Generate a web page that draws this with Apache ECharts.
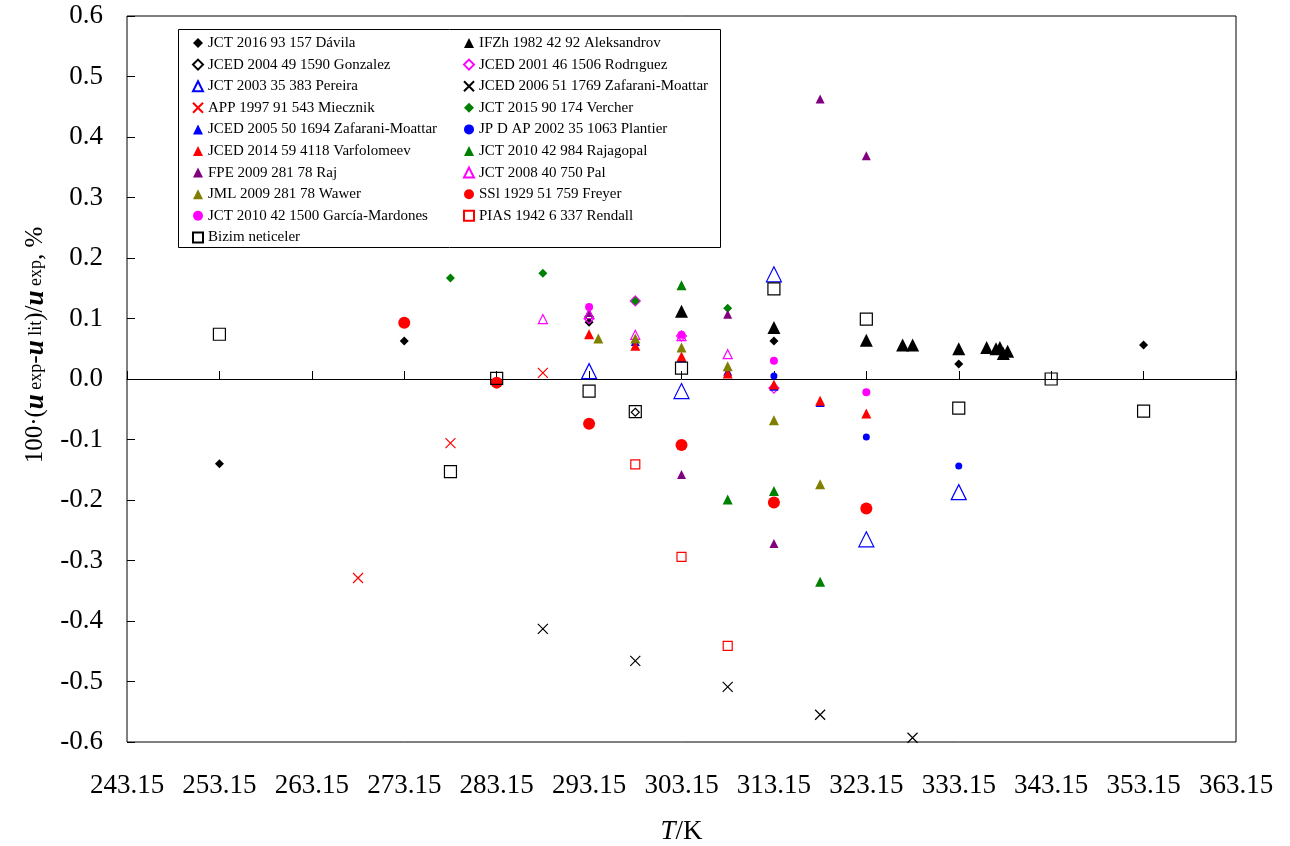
<!DOCTYPE html>
<html>
<head>
<meta charset="utf-8">
<script src="https://cdn.jsdelivr.net/npm/echarts@6/dist/echarts.min.js"></script>
<style>
  html, body { margin: 0; padding: 0; background: #fff; }
  #chart { width: 1290px; height: 846px; }
</style>
</head>
<body>
<div id="chart"></div>
<script>
// temperature offset: axis runs 243.15 .. 363.15 K
var T0 = 243.15;
var xTicks = [243.15, 253.15, 263.15, 273.15, 283.15, 293.15, 303.15, 313.15, 323.15, 333.15, 343.15, 353.15, 363.15];
var yTicks = [-0.6, -0.5, -0.4, -0.3, -0.2, -0.1, 0.0, 0.1, 0.2, 0.3, 0.4, 0.5, 0.6];

// deviations, 100*(u_exp-u_lit)/u_exp, %
var davilaT = [253.15, 273.15, 293.15, 313.15, 333.15, 353.15];
var davilaD = [-0.140, 0.063, 0.094, 0.063, 0.025, 0.056];

var aleksT = [303.15, 313.15, 323.15, 327.08, 328.16, 333.15, 336.17, 337.18, 337.60, 337.97, 338.44];
var aleksD = [0.112, 0.085, 0.064, 0.056, 0.056, 0.050, 0.052, 0.050, 0.052, 0.042, 0.046];

var gonzT = [293.15, 298.15];
var gonzD = [0.103, -0.055];

var rodrT = [293.15, 298.15, 303.15, 313.15];
var rodrD = [0.100, 0.129, 0.071, -0.015];

var pereiraT = [293.15, 303.15, 313.15, 323.15, 333.15];
var pereiraD = [0.013, -0.020, 0.173, -0.265, -0.187];

var zm2006T = [288.15, 298.15, 308.15, 318.15, 328.15];
var zm2006D = [-0.413, -0.466, -0.509, -0.555, -0.593];

var miecT = [268.15, 278.15, 288.15];
var miecD = [-0.329, -0.106, 0.010];

var vercherT = [278.15, 288.15, 298.15, 308.15];
var vercherD = [0.167, 0.175, 0.129, 0.117];

var zm2005T = [298.15, 303.15, 308.15, 313.15, 318.15];
var zm2005D = [0.062, 0.035, 0.013, -0.012, -0.039];

var plantT = [313.15, 323.15, 333.15];
var plantD = [0.005, -0.096, -0.144];

var varfT = [293.15, 298.15, 303.15, 308.15, 313.15, 318.15, 323.15];
var varfD = [0.074, 0.055, 0.037, 0.009, -0.009, -0.036, -0.057];

var rajagT = [303.15, 308.15, 313.15, 318.15];
var rajagD = [0.155, -0.199, -0.185, -0.335];

var rajT = [293.15, 303.15, 308.15, 313.15, 318.15, 323.15];
var rajD = [0.110, -0.158, 0.107, -0.272, 0.463, 0.369];

var palT = [288.15, 293.15, 298.15, 303.15, 308.15];
var palD = [0.099, 0.107, 0.073, 0.071, 0.041];

var wawerT = [294.15, 298.15, 303.15, 308.15, 313.15, 318.15];
var wawerD = [0.067, 0.067, 0.052, 0.021, -0.068, -0.174];

var freyerT = [273.15, 283.15, 293.15, 303.15, 313.15, 323.15];
var freyerD = [0.093, -0.006, -0.074, -0.109, -0.204, -0.214];

var garciaT = [293.15, 303.15, 313.15, 323.15];
var garciaD = [0.119, 0.073, 0.030, -0.022];

var rendallT = [298.15, 303.15, 308.15];
var rendallD = [-0.141, -0.294, -0.441];

var bizimT = [253.15, 278.15, 283.15, 293.15, 298.15, 303.15, 313.15, 323.15, 333.15, 343.15, 353.15];
var bizimD = [0.074, -0.153, 0.001, -0.020, -0.054, 0.018, 0.149, 0.099, -0.048, 0.000, -0.053];

var leftNames = [
    'JCT 2016 93 157 Dávila',
    'JCED 2004 49 1590 Gonzalez',
    'JCT 2003 35 383 Pereira',
    'APP 1997 91 543 Miecznik',
    'JCED 2005 50 1694 Zafarani-Moattar',
    'JCED 2014 59 4118 Varfolomeev',
    'FPE 2009 281 78 Raj',
    'JML 2009 281 78 Wawer',
    'JCT 2010 42 1500 García-Mardones',
    'Bizim neticeler'
];
var rightNames = [
    'IFZh 1982 42 92 Aleksandrov',
    'JCED 2001 46 1506 Rodrıguez',
    'JCED 2006 51 1769 Zafarani-Moattar',
    'JCT 2015 90 174 Vercher',
    'JP D AP 2002 35 1063 Plantier',
    'JCT 2010 42 984 Rajagopal',
    'JCT 2008 40 750 Pal',
    'SSl 1929 51 759 Freyer',
    'PIAS 1942 6 337 Rendall'
];

var crossPath = 'path://M0,0L10,10M10,0L0,10';
var FONT = 'Liberation Serif';

function pts(ts, ds) {
    return ts.map(function (t, i) { return [t - T0, ds[i]]; });
}

function filled(name, ts, ds, symbol, size, color) {
    return {
        name: name, type: 'scatter', data: pts(ts, ds),
        symbol: symbol, symbolSize: size,
        itemStyle: { color: color, opacity: 1 }
    };
}
function open(name, ts, ds, symbol, size, color) {
    return {
        name: name, type: 'scatter', data: pts(ts, ds),
        symbol: symbol, symbolSize: size,
        itemStyle: { color: 'rgba(255,255,255,0)', borderColor: color, borderWidth: 1.2, opacity: 1 }
    };
}

var series = [
    filled(leftNames[0], davilaT, davilaD, 'diamond', 9, '#000000'),
    filled(rightNames[0], aleksT, aleksD, 'triangle', 13, '#000000'),
    open(leftNames[1], gonzT, gonzD, 'diamond', 8, '#000000'),
    open(rightNames[1], rodrT, rodrD, 'diamond', 10, '#FF00FF'),
    open(leftNames[2], pereiraT, pereiraD, 'triangle', 15, '#0000FF'),
    open(rightNames[2], zm2006T, zm2006D, crossPath, 10, '#000000'),
    open(leftNames[3], miecT, miecD, crossPath, 10, '#FF0000'),
    filled(rightNames[3], vercherT, vercherD, 'diamond', 9, '#008000'),
    filled(leftNames[4], zm2005T, zm2005D, 'triangle', 9, '#0000FF'),
    filled(rightNames[4], plantT, plantD, 'circle', 7, '#0000FF'),
    filled(leftNames[5], varfT, varfD, 'triangle', 10, '#FF0000'),
    filled(rightNames[5], rajagT, rajagD, 'triangle', 10, '#008000'),
    filled(leftNames[6], rajT, rajD, 'triangle', 9, '#800080'),
    open(rightNames[6], palT, palD, 'triangle', 9, '#FF00FF'),
    filled(leftNames[7], wawerT, wawerD, 'triangle', 10, '#808000'),
    filled(rightNames[7], freyerT, freyerD, 'circle', 12, '#FF0000'),
    filled(leftNames[8], garciaT, garciaD, 'circle', 8, '#FF00FF'),
    open(rightNames[8], rendallT, rendallD, 'rect', 9, '#FF0000'),
    open(leftNames[9], bizimT, bizimD, 'rect', 12, '#000000')
];

var chart = echarts.init(document.getElementById('chart'));

var legendBase = {
    orient: 'vertical',
    top: 30.5,
    itemWidth: 10,
    itemHeight: 10,
    itemGap: 6.6,
    padding: 5,
    textStyle: { fontFamily: FONT, fontSize: 15, color: '#000' }
};

var option = {
    animation: false,
    backgroundColor: '#fff',
    textStyle: { fontFamily: FONT },
    grid: {
        left: 127, right: 54, top: 16, bottom: 104,
        outerBoundsMode: 'none',
        show: true, borderColor: '#000', borderWidth: 1, backgroundColor: 'transparent'
    },
    graphic: [{
        type: 'rect', z: 1,
        shape: { x: 178.5, y: 29.5, width: 542, height: 218 },
        style: { fill: '#fff', stroke: '#000', lineWidth: 1 }
    }],
    legend: [
        Object.assign({}, legendBase, { left: 187, data: leftNames }),
        Object.assign({}, legendBase, { left: 458, data: rightNames })
    ],
    xAxis: [{
        type: 'value', position: 'bottom',
        min: xTicks[0] - T0, max: xTicks[xTicks.length - 1] - T0, interval: 10,
        axisLine: { show: false, onZero: false },
        axisTick: { show: false },
        splitLine: { show: false },
        axisLabel: {
            margin: 30, fontSize: 27, color: '#000', fontFamily: FONT,
            formatter: function (v) { return (v + T0).toFixed(2); }
        },
        name: '{i|T}{n|/K}',
        nameLocation: 'middle',
        nameGap: 76,
        nameTextStyle: {
            rich: {
                i: { fontSize: 27, fontStyle: 'italic', fontFamily: FONT, color: '#000' },
                n: { fontSize: 27, fontFamily: FONT, color: '#000' }
            }
        }
    }, {
        type: 'value', position: 'top',
        min: xTicks[0] - T0, max: xTicks[xTicks.length - 1] - T0, interval: 10,
        axisLine: { show: true, onZero: true, lineStyle: { color: '#000', width: 1 } },
        axisTick: { show: true, inside: false, length: 8, lineStyle: { color: '#000' } },
        axisLabel: { show: false },
        splitLine: { show: false }
    }],
    yAxis: {
        type: 'value',
        min: yTicks[0], max: yTicks[yTicks.length - 1], interval: 0.1,
        axisLine: { show: false },
        axisTick: { show: true, inside: true, length: 8, lineStyle: { color: '#000' } },
        splitLine: { show: false },
        axisLabel: {
            margin: 24, fontSize: 27, color: '#000', fontFamily: FONT,
            formatter: function (v) { return v.toFixed(1); }
        },
        name: '{n|100·(}{u|u}{s| exp}{n|-}{u|u}{s| lit}{n|)/}{u|u}{s| exp}{n|, %}',
        nameLocation: 'middle',
        nameRotate: 90,
        nameGap: 70,
        nameTextStyle: {
            padding: [0, 0, 0, 68],
            rich: {
                n: { fontSize: 25, fontFamily: FONT, color: '#000' },
                u: { fontSize: 27, fontStyle: 'italic', fontWeight: 'bold', fontFamily: FONT, color: '#000' },
                s: { fontSize: 18, fontFamily: FONT, color: '#000' }
            }
        }
    },
    series: series
};

chart.setOption(option);
</script>
</body>
</html>
